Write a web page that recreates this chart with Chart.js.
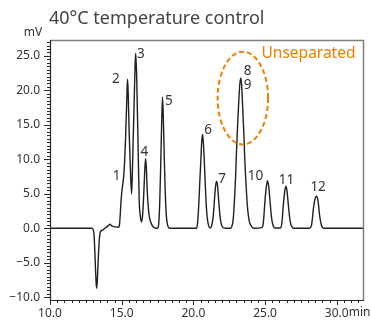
<!DOCTYPE html>
<html>
<head>
<meta charset="utf-8">
<script src="https://cdn.jsdelivr.net/npm/chart.js@4.4.0/dist/chart.umd.min.js"></script>
<style>
  html, body { margin: 0; padding: 0; background: #fff; }
  canvas { display: block; }
</style>
</head>
<body>
<canvas id="chartCanvas" width="371" height="325"></canvas>
<script>
// Chromatogram trace (time in min, signal in mV)
const retentionTimes = [
  10.0, 12.95, 13.03, 13.08, 13.13, 13.18, 13.23, 13.26, 13.3, 13.36, 13.42, 13.48, 13.55, 13.65,
  13.72, 13.85, 13.96, 14.1, 14.19, 14.27, 14.35, 14.55, 14.78, 14.85, 14.9, 14.95, 15.01, 15.07,
  15.14, 15.2, 15.27, 15.34, 15.38, 15.41, 15.45, 15.52, 15.6, 15.69, 15.75, 15.8, 15.86, 15.92,
  15.97, 16.04, 16.1, 16.15, 16.22, 16.3, 16.39, 16.47, 16.55, 16.62, 16.67, 16.72, 16.78, 16.9,
  17.02, 17.2, 17.5, 17.58, 17.65, 17.72, 17.79, 17.85, 17.91, 17.97, 18.03, 18.1, 18.2, 18.36,
  20.22, 20.3, 20.38, 20.45, 20.52, 20.58, 20.64, 20.7, 20.75, 20.81, 20.87, 20.93, 20.99, 21.07,
  21.15, 21.22, 21.3, 21.38, 21.44, 21.5, 21.56, 21.62, 21.68, 21.73, 21.79, 21.85, 21.92, 22.0,
  22.2, 22.6, 22.7, 22.77, 22.83, 22.89, 22.95, 23.0, 23.06, 23.12, 23.18, 23.24, 23.31, 23.36,
  23.4, 23.45, 23.5, 23.55, 23.59, 23.65, 23.71, 23.76, 23.82, 23.9, 24.0, 24.2, 24.78, 24.86,
  24.92, 24.98, 25.04, 25.1, 25.17, 25.22, 25.26, 25.32, 25.38, 25.45, 25.52, 25.6, 25.68, 26.05,
  26.15, 26.21, 26.26, 26.32, 26.38, 26.45, 26.5, 26.54, 26.6, 26.66, 26.73, 26.8, 26.9, 26.97,
  28.1, 28.18, 28.24, 28.3, 28.37, 28.43, 28.49, 28.58, 28.63, 28.68, 28.74, 28.79, 28.86, 28.93,
  29.02, 29.1, 31.9
];
const signalMv = [
  0, 0, -0.3, -1.2, -3.5, -6.2, -8.3, -8.7, -7.6, -4.8, -2.2, -0.8, -0.4, -0.3,
  -0.2, 0.05, 0.2, 0.45, 0.6, 0.4, 0.3, 0.2, 0.15, 0.6, 2.0, 3.8, 5.3, 6.3,
  7.6, 9.5, 13.0, 17.6, 20.5, 21.6, 19.8, 14.0, 9.0, 5.0, 8.5, 12.7, 17.5, 22.4,
  25.4, 22.4, 16.5, 11.3, 4.1, 1.8, 0.9, 2.2, 5.5, 8.8, 10.1, 8.8, 5.5, 2.1,
  0.9, 0.2, 0, 0.6, 3.5, 9.0, 15.5, 19.0, 15.5, 10.3, 5.7, 2.3, 0.45, 0,
  0, 0.9, 3.6, 6.8, 9.8, 12.5, 13.6, 12.3, 10.3, 7.3, 4.5, 2.4, 1.15, 0.35,
  0.05, 0.1, 0.6, 1.7, 3.2, 5.0, 6.3, 6.8, 6.3, 5.0, 3.4, 1.9, 0.9, 0.3,
  0, 0, 0.4, 1.15, 2.8, 5.0, 7.8, 10.8, 13.8, 16.5, 19.0, 20.9, 21.8, 21.0,
  19.4, 17.0, 14.6, 12.0, 9.8, 7.2, 5.0, 3.4, 2.1, 1.0, 0.45, 0, 0.1, 0.5,
  1.8, 3.6, 5.1, 6.2, 6.9, 6.5, 5.95, 4.6, 3.1, 1.6, 0.7, 0.2, 0.05, 0.05,
  0.45, 1.6, 3.1, 4.4, 5.5, 6.1, 5.8, 5.2, 3.9, 2.6, 1.3, 0.55, 0.15, 0,
  0, 0.15, 0.45, 1.4, 2.85, 3.7, 4.3, 4.65, 4.5, 4.15, 3.2, 2.1, 1.1, 0.45,
  0.1, 0, 0
];

// Axis ticks
const xTickValues = [10, 15, 20, 25, 30];
const yTickValues = [-10, -5, 0, 5, 10, 15, 20, 25];

// Peak numbers and where their labels sit (min, mV)
const peakNames = ["1", "2", "3", "4", "5", "6", "7", "8", "9", "10", "11", "12"];
const peakLabelTimes = [14.65, 14.6, 16.34, 16.58, 18.29, 21.03, 22.01, 23.78, 23.78, 24.33, 26.49, 28.7];
const peakLabelMv = [7.56, 21.6, 25.3, 11.1, 18.5, 14.2, 7.1, 22.8, 20.8, 7.57, 7.0, 6.0];

const chartTitle = "40°C temperature control";
const yUnit = "mV";
const xUnit = "min";
const noteText = "Unseparated";

const textFont = '"Noto Sans", "DejaVu Sans", sans-serif';
const orange = "#ee7f00";

const fmt = (v) => (v < 0 ? "\u2212" + Math.abs(v).toFixed(1) : v.toFixed(1));

// Frame, minor ticks and annotations
const decorations = {
  id: "decorations",
  afterDraw(chart) {
    const ctx = chart.ctx;
    const { left, right, top, bottom } = chart.chartArea;
    const xs = chart.scales.x;
    const ys = chart.scales.y;
    ctx.save();

    // gray frame top/right
    ctx.strokeStyle = "#808080";
    ctx.lineWidth = 1.5;
    ctx.beginPath();
    ctx.moveTo(left, top + 0.5);
    ctx.lineTo(right - 0.5, top + 0.5);
    ctx.lineTo(right - 0.5, bottom);
    ctx.stroke();

    // axes
    ctx.strokeStyle = "#2b2b2b";
    ctx.lineWidth = 1.2;
    ctx.beginPath();
    ctx.moveTo(left + 0.5, top);
    ctx.lineTo(left + 0.5, bottom + 0.5);
    ctx.lineTo(right, bottom + 0.5);
    ctx.stroke();

    // tick marks
    ctx.lineWidth = 1;
    ctx.beginPath();
    for (let v = -10; v <= 27; v += 0.5) {
      const py = Math.round(ys.getPixelForValue(v)) + 0.5;
      const len = v % 5 === 0 ? 6 : 3;
      ctx.moveTo(left, py);
      ctx.lineTo(left - len, py);
    }
    for (let t = 10; t <= 31.5; t += 0.5) {
      const px = Math.round(xs.getPixelForValue(t)) + 0.5;
      const len = t % 5 === 0 ? 5 : 3;
      ctx.moveTo(px, bottom);
      ctx.lineTo(px, bottom + len);
    }
    ctx.stroke();

    // title and units
    ctx.fillStyle = "#444";
    ctx.font = "18px " + textFont;
    ctx.textAlign = "left";
    ctx.textBaseline = "middle";
    ctx.fillText(chartTitle, 49, 19);

    ctx.font = "12px " + textFont;
    ctx.fillStyle = "#333";
    ctx.textAlign = "center";
    ctx.fillText(yUnit, 33, 33);

    const x30 = xs.getPixelForValue(30);
    ctx.textAlign = "left";
    ctx.fillText(xUnit, x30 + ctx.measureText("30.0").width / 2, 313);

    // peak labels
    ctx.font = "13.5px " + textFont;
    ctx.fillStyle = "#333";
    ctx.textAlign = "center";
    peakNames.forEach((name, i) => {
      ctx.fillText(name, xs.getPixelForValue(peakLabelTimes[i]), ys.getPixelForValue(peakLabelMv[i]));
    });

    // dashed ellipse around 8/9
    const cx = xs.getPixelForValue(23.45);
    const cy = ys.getPixelForValue(18.88);
    const rx = xs.getPixelForValue(23.45 + 1.76) - cx;
    const ry = cy - ys.getPixelForValue(18.88 + 6.72);
    ctx.strokeStyle = orange;
    ctx.lineWidth = 2;
    ctx.setLineDash([5, 3]);
    ctx.beginPath();
    ctx.ellipse(cx, cy, rx, ry, 0, 0, Math.PI * 2);
    ctx.stroke();
    ctx.setLineDash([]);

    ctx.fillStyle = orange;
    ctx.font = "15.5px " + textFont;
    ctx.textAlign = "center";
    ctx.fillText(noteText, 308.5, 54);

    ctx.restore();
  },
};

const ctx = document.getElementById("chartCanvas").getContext("2d");
const chart = new Chart(ctx, {
  type: "line",
  data: {
    datasets: [
      {
        data: retentionTimes.map((t, i) => ({ x: t, y: signalMv[i] })),
        borderColor: "#231f1c",
        borderWidth: 1.4,
        pointRadius: 0,
        fill: false,
        cubicInterpolationMode: "monotone",
      },
    ],
  },
  options: {
    responsive: false,
    devicePixelRatio: 1,
    animation: false,
    layout: { padding: { top: 40, right: 7, left: 0, bottom: 0 } },
    plugins: {
      legend: { display: false },
      tooltip: { enabled: false },
    },
    scales: {
      x: {
        type: "linear",
        min: 10,
        max: 31.9,
        grid: { display: false, drawTicks: false },
        border: { display: false },
        afterBuildTicks: (scale) => {
          scale.ticks = xTickValues.map((v) => ({ value: v }));
        },
        afterFit: (scale) => {
          scale.height = 25;
        },
        ticks: {
          padding: 6,
          color: "#333",
          font: { family: textFont, size: 12 },
          maxRotation: 0,
          autoSkip: false,
          callback: (v) => fmt(v),
        },
      },
      y: {
        type: "linear",
        min: -10.4,
        max: 27.3,
        grid: { display: false, drawTicks: false },
        border: { display: false },
        afterBuildTicks: (scale) => {
          scale.ticks = yTickValues.map((v) => ({ value: v }));
        },
        afterFit: (scale) => {
          scale.width = 50;
        },
        ticks: {
          padding: 10,
          color: "#333",
          font: { family: textFont, size: 12 },
          autoSkip: false,
          callback: (v) => fmt(v),
        },
      },
    },
  },
  plugins: [decorations],
});
</script>
</body>
</html>
